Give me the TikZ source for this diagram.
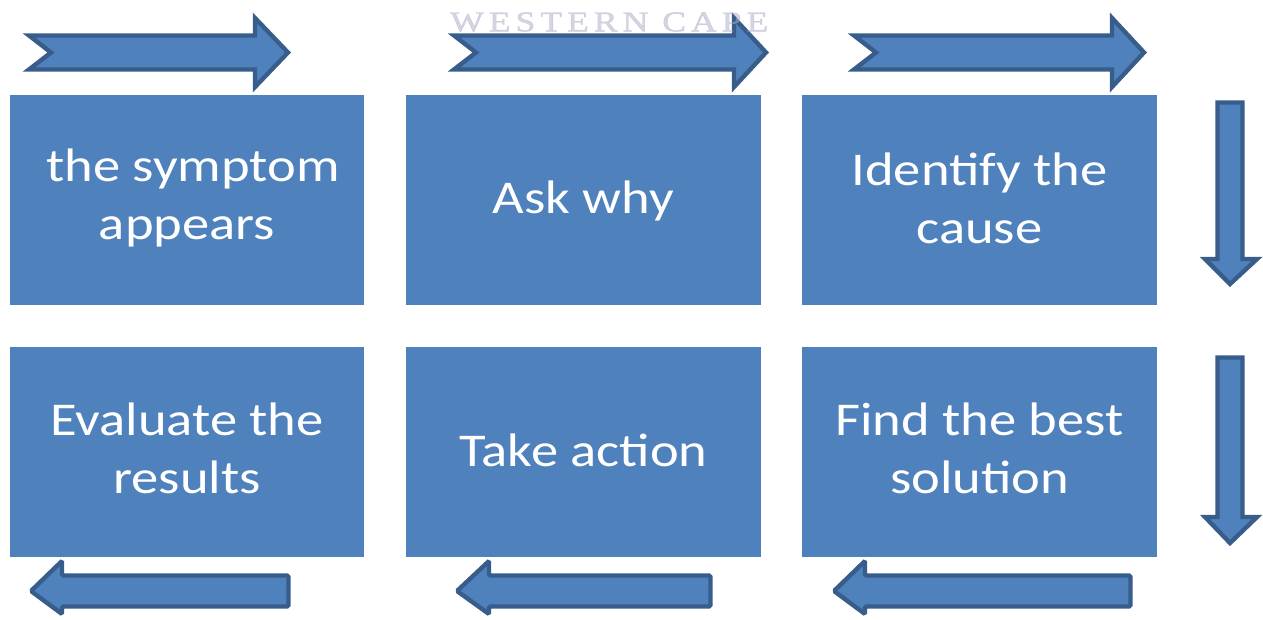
\documentclass[tikz,border=0pt]{standalone}
\usepackage{fontspec}
\usepackage{graphicx}
\setmainfont[FakeStretch=1.16]{Carlito}
\newfontfamily\wmfont[LetterSpace=14,FakeBold=1.2]{Liberation Serif}
\definecolor{boxblue}{HTML}{4F81BD}
\definecolor{arrowline}{HTML}{385D8A}
\definecolor{wmcol}{RGB}{170,170,198}
\begin{document}
\begin{tikzpicture}[x=1pt,y=-1pt,
  stepbox/.style={fill=boxblue,draw=none,minimum width=#1,minimum height=210pt,inner sep=0pt},
  steptext/.style={inner sep=0pt,text=white,align=center,font=\fontsize{47}{58}\selectfont},
  blockarrow/.style={fill=boxblue,draw=arrowline,line width=4.4pt,line join=miter}]
\useasboundingbox (0,0) rectangle (1263,620);
% boxes
\node[stepbox=354pt] (b1) at (187,200) {};
\node[stepbox=355pt] (b2) at (583.5,200) {};
\node[stepbox=355pt] (b3) at (979.5,200) {};
\node[stepbox=354pt] (b4) at (187,452) {};
\node[stepbox=355pt] (b5) at (583.5,452) {};
\node[stepbox=355pt] (b6) at (979.5,452) {};
% texts
\node[steptext] (t1) at ([yshift=2pt]b1.center) {\ the symptom\\appears};
\node[steptext] (t2) at ([yshift=-1pt]b2.center) {Ask why};
\node[steptext] (t3) at ([yshift=2pt]b3.center) {Identify the\\cause};
\node[steptext] (t4) at ([yshift=4pt]b4.center) {Evaluate the\\results};
\node[steptext] (t5) at ([yshift=2pt]b5.center) {Take action};
\node[steptext] (t6) at ([yshift=4pt]b6.center) {Find the best\\solution};
% top right-pointing notched arrows
\draw[blockarrow] (29,35.5) -- (255,35.5) -- (255,18) -- (288,52.5) -- (255,87) -- (255,69.5) -- (29,69.5) -- (51,52.5) -- cycle;
\draw[blockarrow] (454,35.5) -- (734,35.5) -- (734,18) -- (766,52.5) -- (734,87) -- (734,69.5) -- (454,69.5) -- (476,52.5) -- cycle;
\draw[blockarrow] (854,35.5) -- (1112,35.5) -- (1112,18) -- (1144,52.5) -- (1112,87) -- (1112,69.5) -- (854,69.5) -- (876,52.5) -- cycle;
% watermark
\node[inner sep=0pt,anchor=south west,text=wmcol,opacity=0.5] (wm) at (450,32)
  {\resizebox{318pt}{19pt}{\wmfont WESTERN CAPE}};
% down arrows
\draw[blockarrow] (1217.5,102.5) -- (1242.5,102.5) -- (1242.5,259) -- (1257,259) -- (1230,284) -- (1205,259) -- (1217.5,259) -- cycle;
\draw[blockarrow] (1217.5,357.5) -- (1242.5,357.5) -- (1242.5,517) -- (1257,517) -- (1230,543) -- (1205,517) -- (1217.5,517) -- cycle;
% bottom left-pointing arrows
\draw[blockarrow,rounded corners=1.5pt] (288.5,575.5) -- (288.5,606.5) -- (62,606.5) -- (62,614) -- (31,591) -- (62,561) -- (62,575.5) -- cycle;
\draw[blockarrow,rounded corners=1.5pt] (710.5,575.5) -- (710.5,606.5) -- (489,606.5) -- (489,614) -- (457,591) -- (489,561) -- (489,575.5) -- cycle;
\draw[blockarrow,rounded corners=1.5pt] (1130.5,575.5) -- (1130.5,606.5) -- (865,606.5) -- (865,614) -- (834,591) -- (865,561) -- (865,575.5) -- cycle;
\end{tikzpicture}
\end{document}
